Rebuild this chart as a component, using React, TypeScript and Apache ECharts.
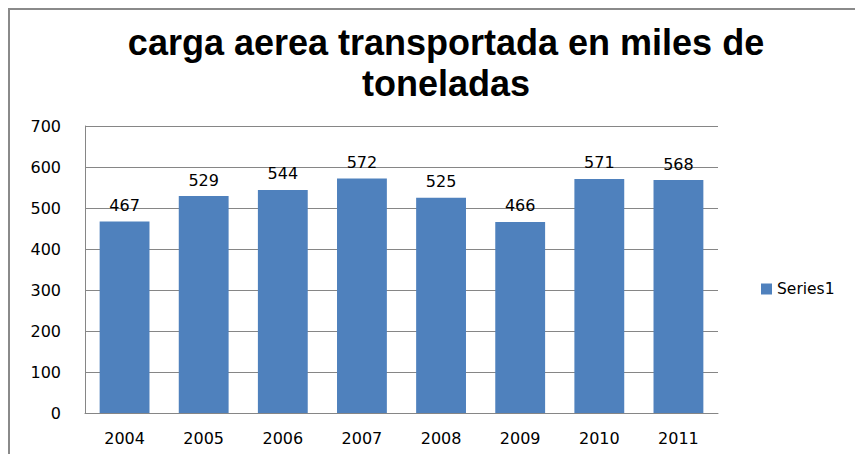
import React, { useEffect, useRef } from "react";
import * as echarts from "echarts";

const titleText = "carga aerea transportada en miles de\ntoneladas";
const years = ["2004", "2005", "2006", "2007", "2008", "2009", "2010", "2011"];
const values = [467, 529, 544, 572, 525, 466, 571, 568];
const seriesName = "Series1";
const yTicks = { min: 0, max: 700, interval: 100 };

export default function App() {
  const ref = useRef<HTMLDivElement>(null);
  useEffect(() => {
    if (!ref.current) return;
    const chart = echarts.init(ref.current, null, { renderer: "svg" });
    const axisFont = { fontFamily: "DejaVu Sans", fontSize: 16, color: "#000" };
    chart.setOption({
      animation: false,
      backgroundColor: "#fff",
      title: {
        text: titleText,
        left: 441,
        textAlign: "center",
        top: 17,
        textStyle: {
          fontFamily: "Liberation Sans",
          fontWeight: "bold",
          fontSize: 36,
          lineHeight: 41,
          color: "#000",
        },
      },
      graphic: [
        {
          type: "rect",
          shape: { x: 9, y: 9, width: 900, height: 500 },
          style: { fill: "none", stroke: "#8a8a8a", lineWidth: 2 },
          silent: true,
        },
      ],
      legend: {
        left: 756,
        top: 276,
        itemWidth: 11,
        itemHeight: 11,
        itemGap: 4,
        textStyle: { ...axisFont, fontSize: 15.5 },
        data: [{ name: seriesName, icon: "rect" }],
      },
      grid: { left: 85, top: 126, right: 137, bottom: 41, containLabel: false },
      xAxis: {
        type: "category",
        data: years,
        axisLine: { lineStyle: { color: "#868686", width: 1 } },
        axisTick: { show: false },
        axisLabel: { ...axisFont, margin: 17 },
      },
      yAxis: {
        type: "value",
        min: yTicks.min,
        max: yTicks.max,
        interval: yTicks.interval,
        axisLine: { show: true, lineStyle: { color: "#868686", width: 1 } },
        axisTick: { show: false },
        splitLine: { lineStyle: { color: "#868686", width: 1 } },
        axisLabel: { ...axisFont, margin: 24 },
      },
      series: [
        {
          name: seriesName,
          type: "bar",
          data: values,
          barWidth: "63%",
          itemStyle: { color: "#4F81BD" },
          label: {
            show: true,
            position: "top",
            distance: 8,
            ...axisFont,
          },
        },
      ],
    });
    return () => chart.dispose();
  }, []);
  return (
    <div
      ref={ref}
      style={{ position: "absolute", left: 0, top: 0, width: 855, height: 454 }}
    />
  );
}
